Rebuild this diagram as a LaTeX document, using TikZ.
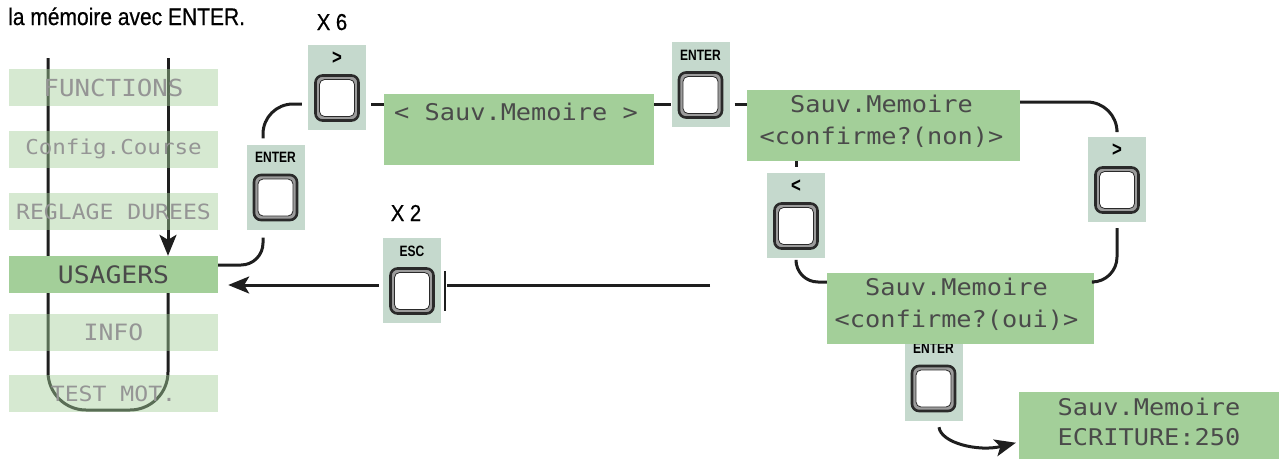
\documentclass[tikz,border=0pt]{standalone}
\usepackage{fontspec}
\usepackage{graphicx}
\usetikzlibrary{arrows.meta,calc}
\setmainfont{Liberation Sans}
\newfontfamily\headfont[FakeBold=0.6]{Liberation Sans}
\newfontfamily\lcdfont[FakeStretch=1.1]{DejaVu Sans Mono}
\definecolor{lcdgreen}{HTML}{A3CF99}
\definecolor{panelgray}{HTML}{C5D9CD}
\definecolor{btndark}{HTML}{2A2A2A}
\definecolor{btnring}{HTML}{9C9C9C}
\definecolor{lcdtext}{HTML}{4A4A4A}
\definecolor{lcdfade}{HTML}{959595}
\definecolor{linecol}{HTML}{1E1E1E}
\pgfdeclarelayer{bg}
\pgfsetlayers{bg,main}
\tikzset{
  conn/.style={draw=linecol, line width=3pt},
  tip/.style={-{Stealth[length=21pt,width=17pt,inset=5pt]}},
  lcdbox/.style={fill=lcdgreen, inner sep=0pt, minimum width=#1, minimum height=71pt},
  menubox/.style={fill=lcdgreen, inner sep=0pt, minimum width=209pt, minimum height=37pt, text=lcdtext},
  fadedbox/.style={menubox, fill opacity=0.45, text opacity=1, text=lcdfade},
  lcdtxt/.style={text=lcdtext, inner sep=0pt, anchor=base, font=\lcdfont\fontsize{23}{23}\selectfont},
  panelbox/.style={fill=panelgray, inner sep=0pt, minimum width=58pt, minimum height=85pt},
  keylabel/.style={inner sep=0pt, font=\bfseries\fontsize{15}{15}\selectfont, text=black},
  keyouter/.style={draw=btndark, line width=2.6pt, fill=btnring, rounded corners=7pt, minimum width=43pt, minimum height=45pt, inner sep=0pt},
  keyinner/.style={draw=btndark, line width=0.8pt, fill=white, rounded corners=5pt, minimum width=35pt, minimum height=37pt, inner sep=0pt},
  keypad/.pic={
    \node[panelbox] (-p) at (0,0) {};
    \node[keylabel] (-l) at (0,-29.5) {\scalebox{0.8}[1]{#1}};
    \node[keyouter] (-b) at (0,10.5) {};
    \node[keyinner] (-i) at (0,10.5) {};
  },
}
\begin{document}
\begin{tikzpicture}[x=1pt,y=-1pt]
\useasboundingbox (0,0) rectangle (1280,459);
% titles
\node[anchor=base west, inner sep=0pt, font=\headfont\fontsize{24}{24}\selectfont] (title) at (8,25) {\scalebox{0.875}[1]{la mémoire avec ENTER.}};
\node[anchor=base, inner sep=0pt, font=\headfont\fontsize{23}{23}\selectfont] (x6) at (332,30) {\scalebox{0.88}[1]{X 6}};
\node[anchor=base, inner sep=0pt, font=\headfont\fontsize{23}{23}\selectfont] (x2) at (406,221) {\scalebox{0.88}[1]{X 2}};
% menu column
\node[fadedbox, font=\lcdfont\fontsize{23.5}{23.5}\selectfont] (functions) at (113.5,87.5) {FUNCTIONS};
\node[fadedbox, font=\lcdfont\fontsize{20.5}{20.5}\selectfont] (config) at (113.5,149) {Config.Course};
\node[fadedbox, font=\lcdfont\fontsize{21}{21}\selectfont] (reglage) at (113.5,211.5) {REGLAGE DUREES};
\node[menubox, font=\lcdfont\fontsize{24}{24}\selectfont] (usagers) at (113.5,274.5) {USAGERS};
\node[fadedbox, font=\lcdfont\fontsize{22.5}{22.5}\selectfont] (info) at (113.5,332.5) {INFO};
\node[fadedbox, font=\lcdfont\fontsize{21}{21}\selectfont] (test) at (113.5,393.5) {TEST MOT.};
% keys
\pic (k1) at (337,87.5) {keypad={\fontsize{21}{21}\selectfont >}};
\pic (ke1) at (275.5,187) {keypad={ENTER}};
\pic (ke2) at (700.5,84.5) {keypad={ENTER}};
\pic (kesc) at (412,280.5) {keypad={ESC}};
\pic (klt) at (796,215.5) {keypad={\fontsize{21}{21}\selectfont <}};
\pic (kgt) at (1117,179.5) {keypad={\fontsize{21}{21}\selectfont >}};
\pic (ke3) at (933.5,378) {keypad={ENTER}};
% lcd screens
\node[lcdbox=270pt] (sauv) at (519,129.5) {};
\node[lcdtxt] (sauvt) at ($(sauv.north)+(-3,27)$) {< Sauv.Memoire >};
\node[lcdbox=273pt] (non) at (883.5,125.5) {};
\node[lcdtxt] (nont1) at ($(non.north)+(-2,23)$) {Sauv.Memoire};
\node[lcdtxt] (nont2) at ($(non.north)+(-2,55)$) {<confirme?(non)>};
\node[lcdbox=267pt] (oui) at (960.5,308.5) {};
\node[lcdtxt] (ouit1) at ($(oui.north)+(-4,23)$) {Sauv.Memoire};
\node[lcdtxt] (ouit2) at ($(oui.north)+(-4,55)$) {<confirme?(oui)>};
\node[lcdbox=260pt, minimum height=67pt] (ecr) at (1149,425) {};
\node[lcdtxt] (ecrt1) at ($(ecr.north)+(0,24)$) {Sauv.Memoire};
\node[lcdtxt] (ecrt2) at ($(ecr.north)+(0,54)$) {ECRITURE:250};
% helper coordinates
\coordinate (l1) at (48,58);
\coordinate (r1) at (168,58);
\coordinate (ub) at (0,410);
\coordinate (c1) at (263,265);
\coordinate (c2) at (0,104);
\coordinate (c3) at (0,102);
\coordinate (c4) at (0,282);
\coordinate (c5) at (0,442);
\coordinate (escend) at (710,285);
% menu loop lines (behind boxes)
\begin{pgfonlayer}{bg}
\draw[conn, rounded corners=38pt] (l1) -- (l1 |- ub) -- (r1 |- ub) -- (r1 |- usagers.south);
\draw[conn, tip] (r1) -- (r1 |- usagers.north);
\end{pgfonlayer}
% connectors
\draw[conn, rounded corners=22pt, shorten >=8pt] (usagers.east |- c1) -| (ke1-p.south -| c1);
\draw[conn, rounded corners=30pt, shorten <=6pt, shorten >=6pt] (ke1-p.north -| c1) |- (k1-p.west |- c2);
\draw[conn, shorten <=5pt] (k1-p.east |- c2) -- (sauv.west |- c2);
\draw[conn] (sauv.east |- c2) -- (ke2-p.west |- c2);
\draw[conn, shorten <=5pt] (ke2-p.east |- c2) -- (non.west |- c2);
\draw[conn, rounded corners=30pt, shorten >=7pt] (non.east |- c3) -| (kgt-p.north);
\draw[conn, rounded corners=25pt, shorten <=6pt] (kgt-p.south) |- (oui.east |- c4);
\draw[conn, rounded corners=22pt, shorten <=5pt] (klt-p.south) |- (oui.west |- c4);
\draw[conn, shorten <=6pt] (klt-p.north) -- (klt-p.north |- non.south);
\draw[conn, shorten >=6pt] (escend) -- (kesc-p.east |- escend);
\draw[draw=linecol, line width=2.5pt] (445,271) -- (445,311);
\draw[conn, tip, shorten <=4pt, shorten >=10pt] (kesc-p.west |- escend) -- (usagers.east |- escend);
\draw[conn, tip, shorten >=3pt] ([xshift=5.5pt,yshift=-6.5pt]ke3-p.south) .. controls +(2,16) and +(-40,10) .. (ecr.west |- c5);
\end{tikzpicture}
\end{document}
